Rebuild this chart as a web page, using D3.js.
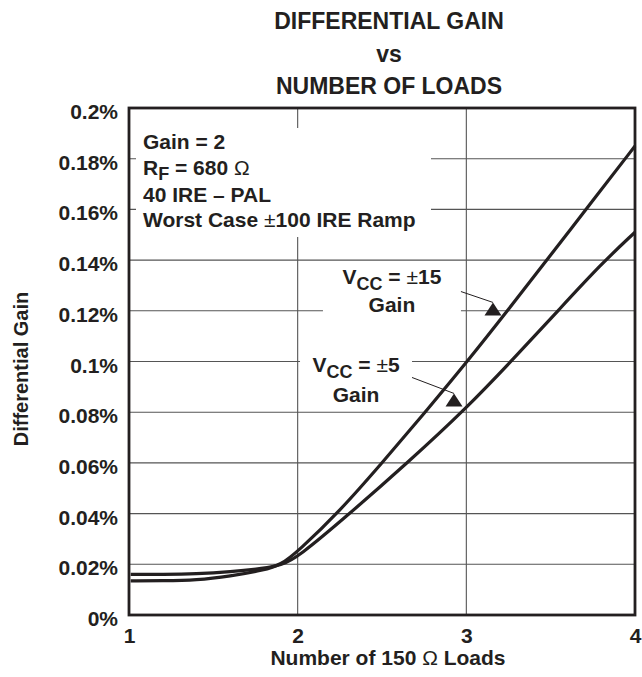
<!DOCTYPE html>
<html>
<head>
<meta charset="utf-8">
<script src="https://cdn.jsdelivr.net/npm/d3@7"></script>
<style>
  body { margin: 0; background: #fff; }
  svg { display: block; }
  text { font-family: "Liberation Sans", Arial, Helvetica, sans-serif; font-weight: bold; fill: #231f20; }
</style>
</head>
<body>
<svg id="chart"></svg>
<script>
// values (x = number of loads, y = differential gain in %)
const loads15 = [1.01, 1.2, 1.4, 1.6, 1.8, 1.9, 2.0, 2.25, 2.5, 2.75, 3.0, 3.25, 3.5, 3.75, 4.0];
const gain15 = [0.0135, 0.0135, 0.0137, 0.0153, 0.0177, 0.0198, 0.025, 0.041, 0.060, 0.0795, 0.0995, 0.1205, 0.142, 0.1635, 0.185];

const loads5 = [1.01, 1.2, 1.4, 1.6, 1.8, 1.9, 2.0, 2.3, 2.65, 3.0, 3.3, 3.55, 3.8, 4.0];
const gain5 = [0.016, 0.016, 0.0162, 0.017, 0.0184, 0.0196, 0.0227, 0.0395, 0.060, 0.0815, 0.1025, 0.1205, 0.1385, 0.151];

const xTicks = [1, 2, 3, 4];
const yTicks = [0, 0.02, 0.04, 0.06, 0.08, 0.1, 0.12, 0.14, 0.16, 0.18, 0.2];
const yTickLabels = ["0%", "0.02%", "0.04%", "0.06%", "0.08%", "0.1%", "0.12%", "0.14%", "0.16%", "0.18%", "0.2%"];

const titleLines = ["DIFFERENTIAL GAIN", "vs", "NUMBER OF LOADS"];

const width = 642,
  height = 677,
  margin = { top: 108, right: 7, bottom: 62, left: 129 };

const ink = "#231f20";
const fs = 21;

const svg = d3.select("#chart").attr("width", width).attr("height", height);

const x = d3
  .scaleLinear()
  .domain([1, 4])
  .range([margin.left, width - margin.right]);

const y = d3
  .scaleLinear()
  .domain([0, 0.2])
  .range([height - margin.bottom, margin.top]);

// grid
const grid = svg.append("g").attr("stroke", "#555").attr("stroke-width", 1.1);

grid
  .selectAll("line.h")
  .data(yTicks.slice(1, -1))
  .enter()
  .append("line")
  .attr("class", "h")
  .attr("x1", x(1))
  .attr("x2", x(4))
  .attr("y1", function(d) { return y(d); })
  .attr("y2", function(d) { return y(d); });

grid
  .selectAll("line.v")
  .data(xTicks.slice(1, -1))
  .enter()
  .append("line")
  .attr("class", "v")
  .attr("y1", y(0))
  .attr("y2", y(0.2))
  .attr("x1", function(d) { return x(d); })
  .attr("x2", function(d) { return x(d); });

// white box behind the conditions text
svg
  .append("rect")
  .attr("x", x(1) + 7)
  .attr("y", y(0.2) + 20)
  .attr("width", 295)
  .attr("height", 109)
  .attr("fill", "#fff");

// annotations (data coordinates)
const notes = [
  { cx: 2.559, y1: 0.1304, y2: 0.1197, sub: "CC", rest: " = ", pm: "\u00b1", num: "15", bw: 138,
    from: [2.968, 0.1276], tip: [3.158, 0.1233] },
  { cx: 2.346, y1: 0.0957, y2: 0.0842, sub: "CC", rest: " = ", pm: "\u00b1", num: "5", bw: 112,
    from: [2.678, 0.0937], tip: [2.927, 0.0874] }
];

const note = svg
  .selectAll("g.note")
  .data(notes)
  .enter()
  .append("g")
  .attr("class", "note");

note
  .append("rect")
  .attr("x", function(d) { return x(d.cx) - d.bw / 2; })
  .attr("y", function(d) { return y(d.y1) - 19; })
  .attr("width", function(d) { return d.bw; })
  .attr("height", function(d) { return y(d.y2) - y(d.y1) + 25; })
  .attr("fill", "#fff");

const line = d3
  .line()
  .x(function(d) { return x(d[0]); })
  .y(function(d) { return y(d[1]); })
  .curve(d3.curveBasis);

const series = [
  d3.zip(loads15, gain15),
  d3.zip(loads5, gain5)
];

svg
  .append("g")
  .selectAll("path")
  .data(series)
  .enter()
  .append("path")
  .attr("d", line)
  .attr("fill", "none")
  .attr("stroke", ink)
  .attr("stroke-width", 3.2);

note
  .append("line")
  .attr("x1", function(d) { return x(d.from[0]); })
  .attr("y1", function(d) { return y(d.from[1]); })
  .attr("x2", function(d) { return x(d.tip[0]); })
  .attr("y2", function(d) { return y(d.tip[1]); })
  .attr("stroke", ink)
  .attr("stroke-width", 1);

note
  .append("path")
  .attr("d", function(d) {
    const tx = x(d.tip[0]),
      ty = y(d.tip[1]);
    return "M" + tx + "," + ty + "L" + (tx - 8.5) + "," + (ty + 13) + "L" + (tx + 8.5) + "," + (ty + 13) + "Z";
  })
  .attr("fill", ink);

const noteText = note
  .append("text")
  .attr("text-anchor", "middle")
  .attr("font-size", fs)
  .attr("x", function(d) { return x(d.cx); })
  .attr("y", function(d) { return y(d.y1); });

noteText.append("tspan").text("V");
noteText.append("tspan").attr("font-size", 18).attr("dy", 6).text(function(d) { return d.sub; });
noteText.append("tspan").attr("dy", -6).text(function(d) { return d.rest; });
noteText.append("tspan").attr("font-weight", "normal").text(function(d) { return d.pm; });
noteText.append("tspan").text(function(d) { return d.num; });

note
  .append("text")
  .attr("text-anchor", "middle")
  .attr("font-size", fs)
  .attr("x", function(d) { return x(d.cx); })
  .attr("y", function(d) { return y(d.y2); })
  .text("Gain");

// frame
svg
  .append("rect")
  .attr("x", x(1))
  .attr("y", y(0.2))
  .attr("width", x(4) - x(1))
  .attr("height", y(0) - y(0.2))
  .attr("fill", "none")
  .attr("stroke", ink)
  .attr("stroke-width", 2.8);

// axes
const yAxis = svg
  .append("g")
  .attr("transform", "translate(" + x(1) + ",0)")
  .call(
    d3.axisLeft(y)
      .tickValues(yTicks)
      .tickSize(0)
      .tickPadding(11)
      .tickFormat(function(d, i) { return yTickLabels[i]; })
  );
yAxis.select(".domain").remove();
yAxis.selectAll("text").attr("font-size", fs).attr("dy", "0.5em").attr("fill", ink).attr("font-family", null);

const xAxis = svg
  .append("g")
  .attr("transform", "translate(0," + y(0) + ")")
  .call(d3.axisBottom(x).tickValues(xTicks).tickSize(0).tickPadding(13).tickFormat(d3.format("d")));
xAxis.select(".domain").remove();
xAxis.selectAll("text").attr("font-size", fs).attr("fill", ink).attr("font-family", null);

// conditions text
const tx0 = x(1) + 14;
const conds = svg.append("text").attr("font-size", fs);

conds.append("tspan").attr("x", tx0).attr("y", 149).text("Gain = 2");
conds.append("tspan").attr("x", tx0).attr("y", 175).text("R");
conds.append("tspan").attr("font-size", 18).attr("dy", 5).text("F");
conds.append("tspan").attr("dy", -5).text(" = 680 ");
conds.append("tspan").attr("font-weight", "normal").text("\u03a9");
conds.append("tspan").attr("x", tx0).attr("y", 202).text("40 IRE \u2013 PAL");
conds.append("tspan").attr("x", tx0).attr("y", 227).text("Worst Case ");
conds.append("tspan").attr("font-weight", "normal").text("\u00b1");
conds.append("tspan").text("100 IRE Ramp");

// title
svg
  .append("g")
  .selectAll("text")
  .data(titleLines)
  .enter()
  .append("text")
  .attr("text-anchor", "middle")
  .attr("font-size", 23)
  .attr("x", 389)
  .attr("y", function(d, i) { return 29 + i * 32.5; })
  .text(function(d) { return d; });

// axis titles
const xTitle = svg
  .append("text")
  .attr("text-anchor", "middle")
  .attr("font-size", fs)
  .attr("x", 388)
  .attr("y", 665);
xTitle.append("tspan").text("Number of 150 ");
xTitle.append("tspan").attr("font-weight", "normal").text("\u03a9");
xTitle.append("tspan").text(" Loads");

svg
  .append("text")
  .attr("text-anchor", "middle")
  .attr("font-size", 20)
  .attr("transform", "translate(28," + 369 + ") rotate(-90)")
  .text("Differential Gain");
</script>
</body>
</html>
